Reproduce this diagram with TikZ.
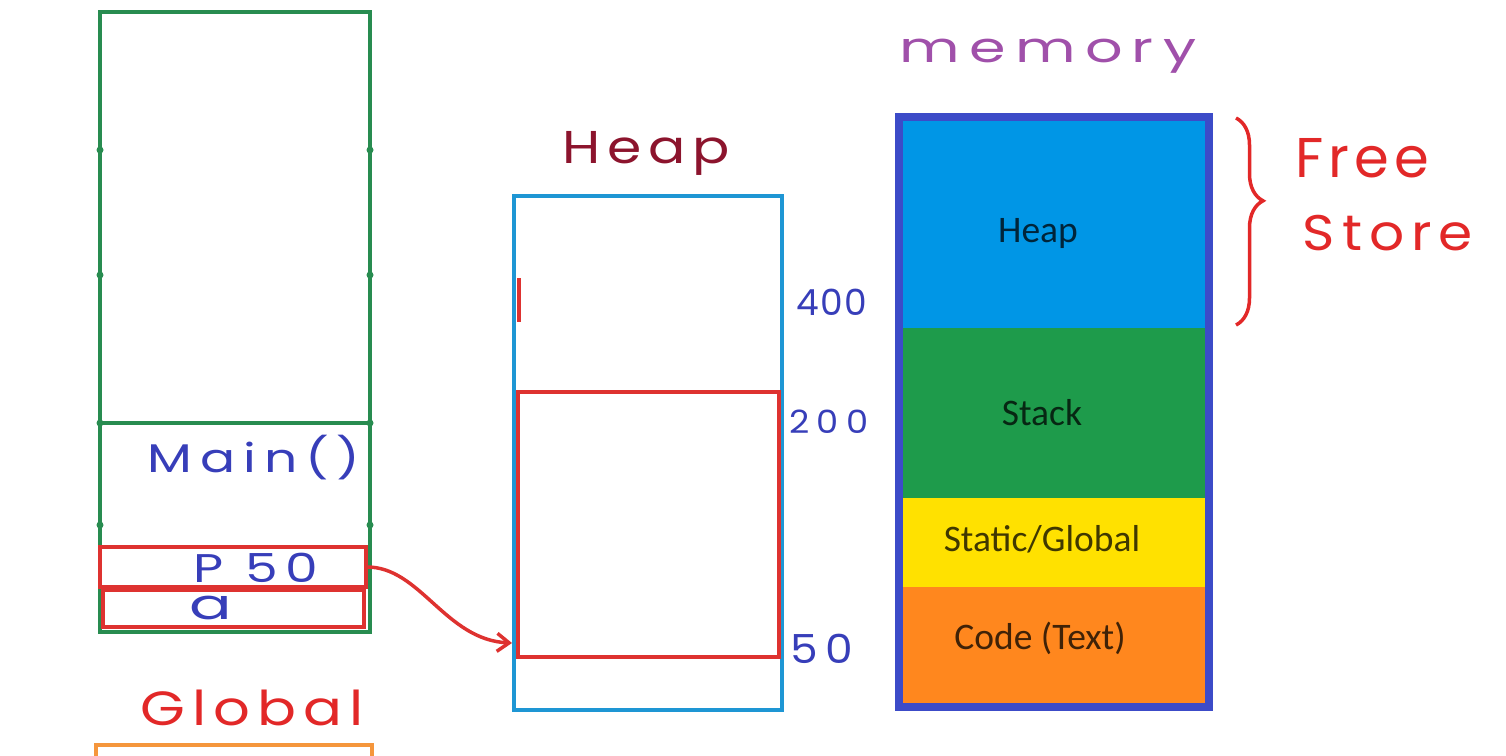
\documentclass[tikz,border=0pt]{standalone}
\usepackage{fontspec}
\setmainfont{Carlito}
\newfontfamily\handfont{Poppins}
\usepackage{xcolor}
\usepackage{tikz}
\usetikzlibrary{arrows.meta,decorations.pathreplacing}
\definecolor{stkgreen}{RGB}{40,140,80}
\definecolor{ptrred}{RGB}{222,50,48}
\definecolor{heapcyan}{RGB}{30,150,212}
\definecolor{globor}{RGB}{245,150,60}
\definecolor{inkblue}{RGB}{55,62,185}
\definecolor{inkred}{RGB}{226,40,40}
\definecolor{inkwine}{RGB}{140,20,45}
\definecolor{inkpurple}{RGB}{160,80,170}
\definecolor{membord}{RGB}{60,75,200}
\definecolor{heapfill}{RGB}{0,150,230}
\definecolor{stackfill}{RGB}{30,155,75}
\definecolor{staticfill}{RGB}{255,225,0}
\definecolor{codefill}{RGB}{255,135,30}
\tikzset{
  box/.style     ={rectangle, inner sep=0pt, outer sep=0pt, anchor=north west},
  stackfr/.style ={box, draw=stkgreen, line width=4pt},
  redfr/.style   ={box, draw=ptrred, line width=4pt},
  heapfr/.style  ={box, draw=heapcyan, line width=4pt},
  seg/.style     ={rectangle, inner sep=0pt, outer sep=0pt, minimum width=310pt},
  segtxt/.style  ={inner sep=0pt, font=\fontsize{37.5}{37.5}\selectfont},
  hand/.style n args={3}{inner sep=0pt, anchor=base,
                   font={\fontsize{#1}{#1}\handfont
                         \addfontfeature{FakeStretch=#2,LetterSpace=#3}}},
  ptr/.style     ={ptrred, line width=3.5pt, -{Straight Barb[length=12pt,width=18pt]}},
  freebrace/.style={inkred, line width=3.5pt, decorate,
                   decoration={brace, amplitude=27pt, aspect=0.4}},
}
\begin{document}
\begin{tikzpicture}[x=1pt, y=-1pt]
    \useasboundingbox (0,0) rectangle (1506,755);
    \clip (0,0) rectangle (1506,755);

    % stack frames (left)
    \node[stackfr, minimum width=270pt, minimum height=620pt] (stk) at (100,12) {};
    \coordinate (mainl) at (100,423);
    \coordinate (mainr) at (370,423);
    \draw[stkgreen, line width=4pt] (mainl) -- (mainr);
    \foreach \y in {150,275,423,525} {
      \fill[stkgreen] (100,\y) circle (3.5pt);
      \fill[stkgreen] (370,\y) circle (3.5pt);
    }
    \node[hand={40}{1.3}{20}, text=inkblue] (mainlbl) at (254,472) {Main()};
    \node[redfr, minimum width=266pt, minimum height=40pt] (pbox) at (100,547) {};
    \node[redfr, minimum width=261pt, minimum height=37pt] (abox) at (103,590) {};
    \node[hand={40}{1.3}{20}, text=inkblue] (plbl) at (256,582) {P 50};
    \node[hand={42}{1.5}{0}, text=inkblue] (albl) at (211,619) {a};

    % global area (bottom left, cut off)
    \node[hand={48}{1.2}{15}, text=inkred] (glbl) at (252,725) {Global};
    \node[box, draw=globor, line width=4pt, minimum width=276pt,
          minimum height=40pt] (gbox) at (96,745) {};

    % heap (middle)
    \node[hand={46}{1.2}{15}, text=inkwine] (hlbl) at (646,163) {Heap};
    \node[heapfr, minimum width=268pt, minimum height=514pt] (hbox) at (514,196) {};
    \node[redfr, minimum width=261pt, minimum height=265pt] (blk) at (518,392) {};
    \draw[ptrred, line width=4pt] (519,278) -- (519,322);
    \node[hand={36}{1}{4}, text=inkblue] (n400) at (832,315) {400};
    \node[hand={32}{1.1}{22}, text=inkblue] (n200) at (829,433) {200};
    \node[hand={40}{1.1}{20}, text=inkblue] (n50) at (822,663) {50};

    % pointer p -> heap block
    \coordinate (tip) at (512,643);
    \draw[ptr] (pbox.east) .. controls (420,566) and (445,640) .. (tip);

    % memory layout (right)
    \node[hand={42}{1.4}{22}, text=inkpurple] (memlbl) at (1048,62) {memory};
    \node[seg, fill=heapfill, minimum height=211pt] (mheap) at (1054,222.5) {};
    \node[seg, fill=stackfill, minimum height=170pt] (mstack) at (1054,413) {};
    \node[seg, fill=staticfill, minimum height=89pt] (mstatic) at (1054,542.5) {};
    \node[seg, fill=codefill, minimum height=120pt] (mcode) at (1054,647) {};
    \node[segtxt, text=heapfill!25!black] (theap)
        at ([xshift=-16pt, yshift=-11pt]mheap.center) {Heap};
    \node[segtxt, text=stackfill!25!black] (tstack)
        at ([xshift=-12pt]mstack.center) {Stack};
    \node[segtxt, text=staticfill!25!black] (tstatic)
        at ([xshift=-12pt, yshift=3pt]mstatic.center) {Static/Global};
    \node[segtxt, text=codefill!25!black] (tcode)
        at ([xshift=-14pt, yshift=9pt]mcode.center) {Code (Text)};
    \node[box, anchor=center, draw=membord, line width=8pt, minimum width=310pt,
          minimum height=590pt] (mem) at (1054,412) {};

    % free store brace
    \coordinate (bt) at (1236,118);
    \coordinate (bb) at (1236,325);
    \draw[freebrace] (bt) -- (bb);
    \node[hand={56}{1}{9}, text=inkred] (free) at (1362,177) {Free};
    \node[hand={50}{1.1}{14}, text=inkred] (store) at (1388,250) {Store};
\end{tikzpicture}
\end{document}
